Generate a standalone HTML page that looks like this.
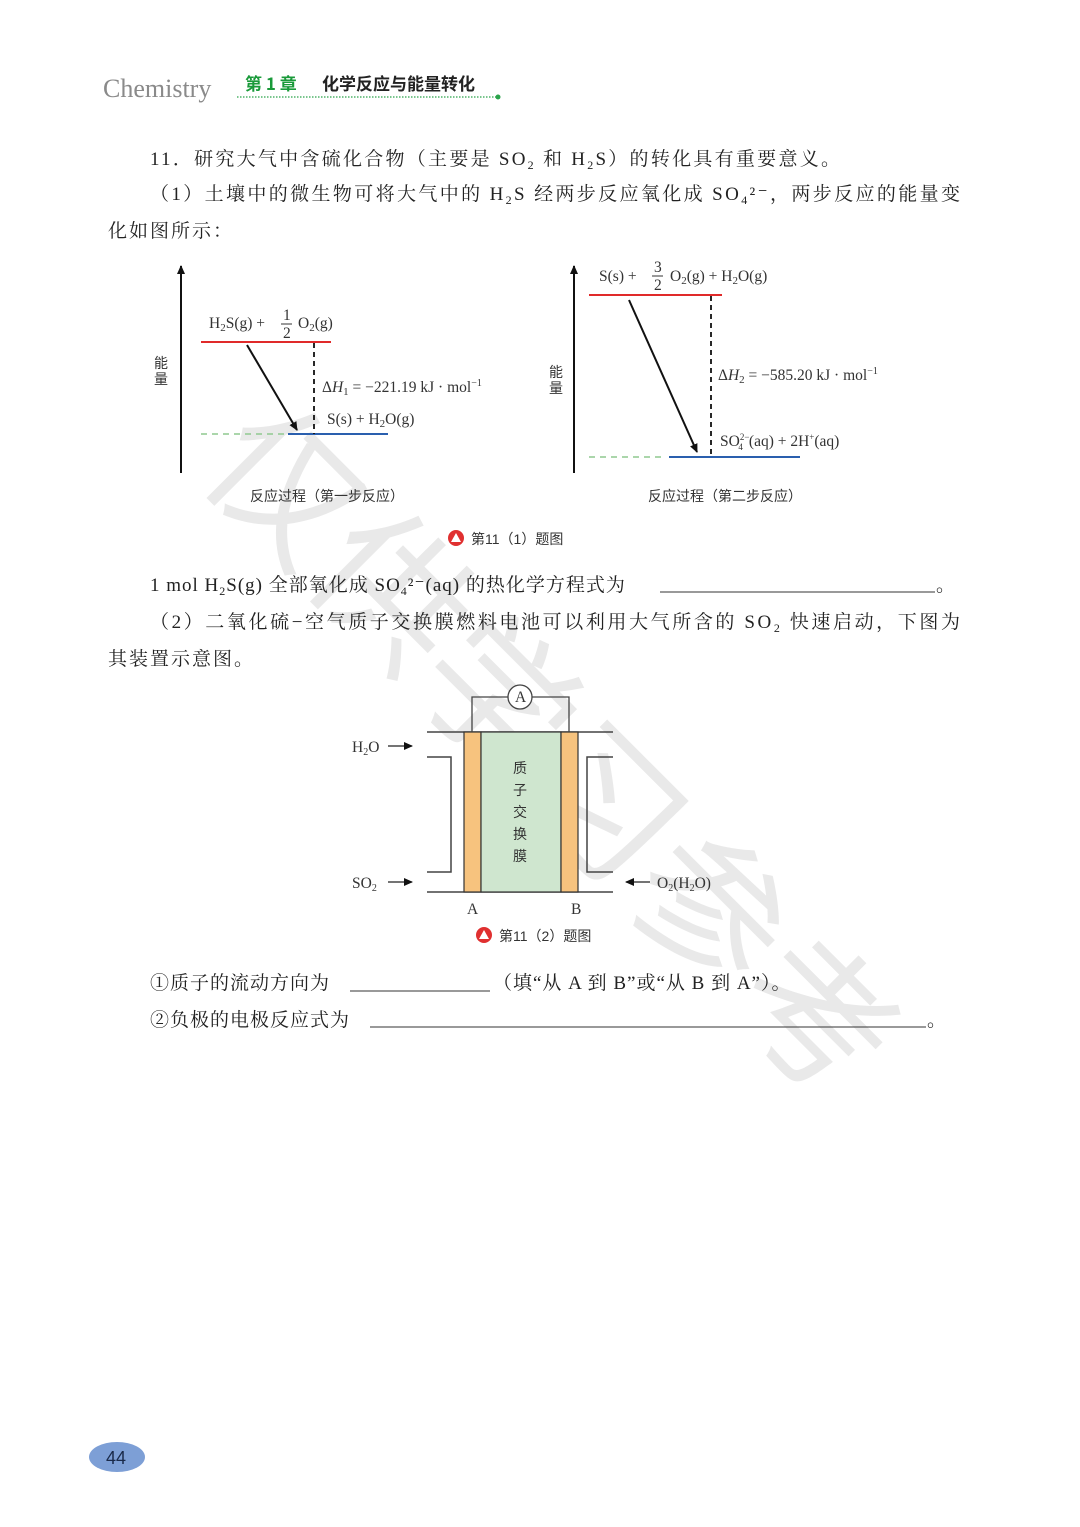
<!DOCTYPE html>
<html><head><meta charset="utf-8"><style>
html,body{margin:0;padding:0;background:#fff;}
svg{display:block;}
.t{font-family:"Liberation Serif","Noto Serif CJK SC",serif;font-size:19px;fill:#222;}
.s{font-family:"Liberation Serif","Noto Serif CJK SC",serif;font-size:15.5px;fill:#333;}
.c{font-family:"Liberation Sans","Noto Sans CJK SC",sans-serif;font-size:14px;fill:#333;}
</style></head><body>
<svg width="1080" height="1527" viewBox="0 0 1080 1527" xmlns="http://www.w3.org/2000/svg">
<rect width="1080" height="1527" fill="#fff"/>
<!-- watermark -->
<g fill="#e2e2e2" font-family="Noto Sans CJK SC,sans-serif" font-size="150" opacity="0.75">
<text transform="translate(195,470) rotate(45)">仅供学习参考</text>
</g>
<!-- header -->
<text x="103" y="97" font-family="Liberation Serif,serif" font-size="26" fill="#8a8a8a">Chemistry</text>
<text x="245" y="90" font-family="Noto Sans CJK SC,sans-serif" font-weight="bold" font-size="17" fill="#1a9a3a">第 1 章</text>
<text x="322" y="90" font-family="Noto Sans CJK SC,sans-serif" font-weight="bold" font-size="17" fill="#222">化学反应与能量转化</text>
<line x1="237" y1="97" x2="496" y2="97" stroke="#2aa34a" stroke-width="1.2" stroke-dasharray="1.5,1.5"/>
<circle cx="498" cy="97" r="2.5" fill="#2aa34a"/>
<!-- text -->
<text class="t" x="150" y="165" textLength="690">11．研究大气中含硫化合物（主要是 SO<tspan font-size="12" dy="4">2</tspan><tspan dy="-4"> 和 H</tspan><tspan font-size="12" dy="4">2</tspan><tspan dy="-4">S）的转化具有重要意义。</tspan></text>
<text class="t" x="150" y="200" textLength="810">（1）土壤中的微生物可将大气中的 H<tspan font-size="12" dy="4">2</tspan><tspan dy="-4">S 经两步反应氧化成 SO</tspan><tspan font-size="12" dy="4">4</tspan><tspan dy="-4">²⁻，两步反应的能量变</tspan></text>
<text class="t" x="108" y="237" letter-spacing="2">化如图所示：</text>
<defs><marker id="ah" markerWidth="10" markerHeight="10" refX="8" refY="5" orient="auto" markerUnits="userSpaceOnUse"><path d="M0,1 L9,5 L0,9 Z" fill="#111"/></marker></defs>
<!-- diagram 1 -->
<line x1="181" y1="473" x2="181" y2="266" stroke="#111" stroke-width="2" marker-end="url(#ah)"/>
<line x1="201" y1="342" x2="331" y2="342" stroke="#e02a2a" stroke-width="2"/>
<line x1="201" y1="434" x2="288" y2="434" stroke="#8fc98f" stroke-width="1.5" stroke-dasharray="6,5"/>
<line x1="288" y1="434" x2="388" y2="434" stroke="#2a5fae" stroke-width="2"/>
<line x1="314" y1="343" x2="314" y2="434" stroke="#111" stroke-width="1.8" stroke-dasharray="5,4"/>
<line x1="247" y1="345" x2="297" y2="430" stroke="#111" stroke-width="2" marker-end="url(#ah)"/>
<text class="s" x="209" y="328">H<tspan font-size="11" dy="3">2</tspan><tspan dy="-3">S(g) +</tspan></text>
<text class="s" x="283" y="320" font-size="14">1</text><line x1="281" y1="324" x2="292" y2="324" stroke="#333"/><text class="s" x="283" y="338" font-size="14">2</text>
<text class="s" x="298" y="328">O<tspan font-size="11" dy="3">2</tspan><tspan dy="-3">(g)</tspan></text>
<text class="s" x="322" y="392">Δ<tspan font-style="italic">H</tspan><tspan font-size="11" dy="3">1</tspan><tspan dy="-3"> = −221.19 kJ · mol</tspan><tspan font-size="10" dy="-6">−1</tspan></text>
<text class="s" x="327" y="424">S(s) + H<tspan font-size="11" dy="3">2</tspan><tspan dy="-3">O(g)</tspan></text>
<text class="c" x="154" y="368">能</text><text class="c" x="154" y="384">量</text>
<text class="c" x="250" y="501" font-size="15">反应过程（第一步反应）</text>
<!-- diagram 2 -->
<line x1="574" y1="473" x2="574" y2="266" stroke="#111" stroke-width="2" marker-end="url(#ah)"/>
<line x1="589" y1="295" x2="722" y2="295" stroke="#e02a2a" stroke-width="2"/>
<line x1="589" y1="457" x2="662" y2="457" stroke="#8fc98f" stroke-width="1.5" stroke-dasharray="6,5"/>
<line x1="669" y1="457" x2="800" y2="457" stroke="#2a5fae" stroke-width="2"/>
<line x1="711" y1="296" x2="711" y2="457" stroke="#111" stroke-width="1.8" stroke-dasharray="5,4"/>
<line x1="629" y1="300" x2="697" y2="452" stroke="#111" stroke-width="2" marker-end="url(#ah)"/>
<text class="s" x="599" y="281">S(s) +</text>
<text class="s" x="654" y="272" font-size="14">3</text><line x1="652" y1="276" x2="663" y2="276" stroke="#333"/><text class="s" x="654" y="290" font-size="14">2</text>
<text class="s" x="670" y="281">O<tspan font-size="11" dy="3">2</tspan><tspan dy="-3">(g) + H</tspan><tspan font-size="11" dy="3">2</tspan><tspan dy="-3">O(g)</tspan></text>
<text class="s" x="718" y="380">Δ<tspan font-style="italic">H</tspan><tspan font-size="11" dy="3">2</tspan><tspan dy="-3"> = −585.20 kJ · mol</tspan><tspan font-size="10" dy="-6">−1</tspan></text>
<text class="s" x="720" y="446">SO<tspan font-size="9" dy="-6">2−</tspan><tspan font-size="9" dx="-11" dy="10">4</tspan><tspan dy="-4" dx="6">(aq) + 2H</tspan><tspan font-size="9" dy="-6">+</tspan><tspan dy="6">(aq)</tspan></text>
<text class="c" x="549" y="377">能</text><text class="c" x="549" y="393">量</text>
<text class="c" x="648" y="501" font-size="15">反应过程（第二步反应）</text>
<!-- caption 1 -->
<circle cx="456" cy="538" r="8" fill="#e03030"/><path d="M451,542 L456,533 L461,542 Z" fill="#fff"/>
<text class="c" x="471" y="544">第11（1）题图</text>
<!-- question lines -->
<text class="t" x="150" y="591" letter-spacing="1">1 mol H<tspan font-size="12" dy="4">2</tspan><tspan dy="-4">S(g) 全部氧化成 SO</tspan><tspan font-size="12" dy="4">4</tspan><tspan dy="-4">²⁻(aq) 的热化学方程式为</tspan></text>
<line x1="660" y1="592" x2="935" y2="592" stroke="#333" stroke-width="1"/>
<text class="t" x="936" y="591">。</text>
<text class="t" x="150" y="628" textLength="810">（2）二氧化硫−空气质子交换膜燃料电池可以利用大气所含的 SO<tspan font-size="12" dy="4">2</tspan><tspan dy="-4"> 快速启动，下图为</tspan></text>
<text class="t" x="108" y="665" letter-spacing="2">其装置示意图。</text>
<!-- cell -->
<line x1="427" y1="732" x2="613" y2="732" stroke="#444" stroke-width="1.5"/>
<line x1="427" y1="892" x2="613" y2="892" stroke="#444" stroke-width="1.5"/>
<rect x="464" y="732" width="17" height="160" fill="#f7c37e" stroke="#333" stroke-width="1.2"/>
<rect x="481" y="732" width="80" height="160" fill="#cfe6cf" stroke="#333" stroke-width="1.2"/>
<rect x="561" y="732" width="17" height="160" fill="#f7c37e" stroke="#333" stroke-width="1.2"/>
<path d="M472,732 V697 H508 M532,697 H569 V732" fill="none" stroke="#444" stroke-width="1.3"/>
<circle cx="520" cy="697" r="12" fill="#fff" stroke="#444" stroke-width="1.3"/>
<text class="s" x="515" y="702" font-size="14">A</text>
<path d="M427,757 H451 V872 H427" fill="none" stroke="#444" stroke-width="1.5"/>
<path d="M613,757 H587 V872 H613" fill="none" stroke="#444" stroke-width="1.5"/>
<line x1="388" y1="746" x2="412" y2="746" stroke="#222" stroke-width="1.3" marker-end="url(#ah)"/>
<line x1="388" y1="882" x2="412" y2="882" stroke="#222" stroke-width="1.3" marker-end="url(#ah)"/>
<line x1="650" y1="882" x2="626" y2="882" stroke="#222" stroke-width="1.3" marker-end="url(#ah)"/>
<text class="s" x="352" y="752" font-size="14">H<tspan font-size="10" dy="3">2</tspan><tspan dy="-3">O</tspan></text>
<text class="s" x="352" y="888" font-size="14">SO<tspan font-size="10" dy="3">2</tspan></text>
<text class="s" x="657" y="888" font-size="14">O<tspan font-size="10" dy="3">2</tspan><tspan dy="-3">(H</tspan><tspan font-size="10" dy="3">2</tspan><tspan dy="-3">O)</tspan></text>
<text class="s" x="467" y="914" font-size="14">A</text><text class="s" x="571" y="914" font-size="14">B</text>
<text class="c" x="513" y="773">质</text><text class="c" x="513" y="795">子</text><text class="c" x="513" y="817">交</text><text class="c" x="513" y="839">换</text><text class="c" x="513" y="861">膜</text>
<circle cx="484" cy="935" r="8" fill="#e03030"/><path d="M479,939 L484,930 L489,939 Z" fill="#fff"/>
<text class="c" x="499" y="941">第11（2）题图</text>
<!-- answers -->
<text class="t" x="150" y="989" letter-spacing="1">①质子的流动方向为</text>
<line x1="350" y1="991" x2="490" y2="991" stroke="#333" stroke-width="1"/>
<text class="t" x="493" y="989" letter-spacing="1">（填“从 A 到 B”或“从 B 到 A”）。</text>
<text class="t" x="150" y="1026" letter-spacing="1">②负极的电极反应式为</text>
<line x1="370" y1="1027" x2="926" y2="1027" stroke="#333" stroke-width="1"/>
<text class="t" x="927" y="1026">。</text>
<!-- page number -->
<ellipse cx="117" cy="1457" rx="28" ry="15" fill="#7d9fd6"/>
<text x="106" y="1464" font-family="Liberation Sans,sans-serif" font-size="18" fill="#1a2a4a">44</text>
</svg>
</body></html>
